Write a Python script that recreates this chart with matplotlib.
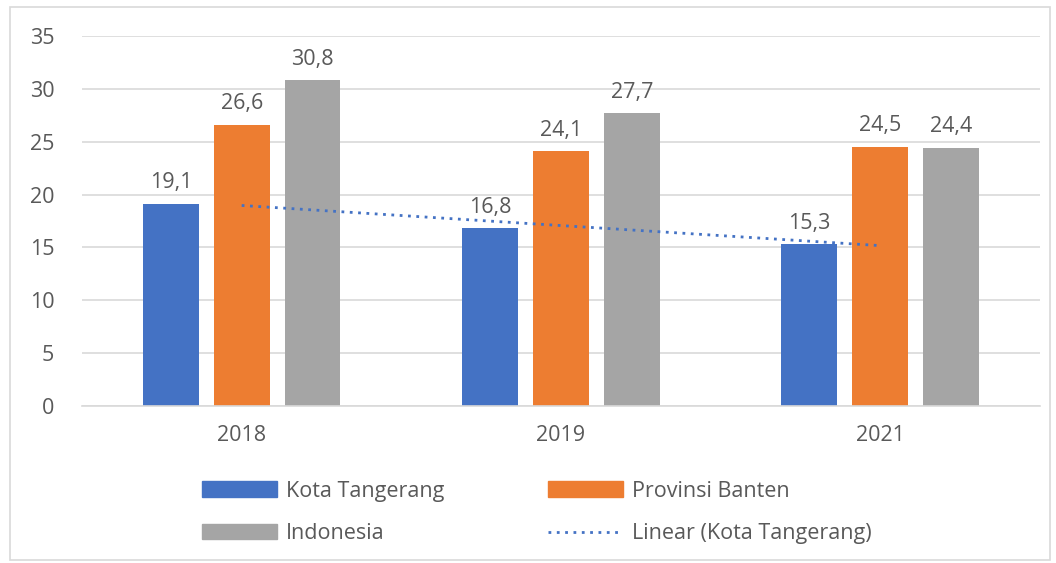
import matplotlib.pyplot as plt
from matplotlib.patches import Patch, Rectangle
from matplotlib.lines import Line2D
import numpy as np

years = ['2018', '2019', '2021']
kota = [19.1, 16.8, 15.3]
banten = [26.6, 24.1, 24.5]
indonesia = [30.8, 27.7, 24.4]
names = ['Kota Tangerang', 'Provinsi Banten', 'Indonesia']
colors = ['#4472C4', '#ED7D31', '#A5A5A5']

plt.rcParams['font.family'] = ['Open Sans', 'DejaVu Sans']
txt = '#595959'
fs = 15.5

fig = plt.figure(figsize=(10.56, 5.63), dpi=100)
ax = fig.add_axes([0.0777, 0.279, 0.907, 0.657])
fig.patches.append(Rectangle((0.009, 0.005), 0.985, 0.982, transform=fig.transFigure,
                             fill=False, edgecolor='#D9D9D9', lw=1.2))

x = np.arange(len(years))
w = 0.175
step = 0.222
for i, (vals, c) in enumerate(zip([kota, banten, indonesia], colors)):
    pos = x + (i - 1) * step
    ax.bar(pos, vals, width=w, color=c, zorder=2)
    for p, v in zip(pos, vals):
        ax.text(p, v + 1.0, f'{v:.1f}'.replace('.', ','), ha='center', va='bottom',
                fontsize=fs, color=txt)

# linear trend line for Kota Tangerang
coef = np.polyfit(x, kota, 1)
ax.plot(x, np.polyval(coef, x), ls=(0, (1, 2)), color='#4472C4', lw=2, zorder=3)

ax.set_xlim(-0.5, 2.5)
ax.set_ylim(0, 35)
ax.set_yticks(range(0, 36, 5))
ax.set_xticks(x)
ax.set_xticklabels(years)
ax.tick_params(length=0, labelsize=fs, colors=txt)
ax.tick_params(axis='x', pad=14)
ax.tick_params(axis='y', pad=20)
ax.grid(axis='y', color='#D9D9D9', lw=1.2, zorder=0)
for s in ['top', 'right', 'left']:
    ax.spines[s].set_visible(False)
ax.spines['bottom'].set_color('#D9D9D9')
ax.spines['bottom'].set_linewidth(1.2)

handles = [Patch(color=colors[0]), Patch(color=colors[2]),
           Patch(color=colors[1]),
           Line2D([], [], ls=(0, (1, 2)), color='#4472C4', lw=2)]
labels = [names[0], names[2], names[1], 'Linear (Kota Tangerang)']
leg = fig.legend(handles, labels, ncol=2, loc='center left', bbox_to_anchor=(0.173, 0.09),
                 frameon=False, fontsize=fs, handlelength=3.5, handleheight=0.7,
                 labelspacing=1.0, columnspacing=4.8, handletextpad=0.4)
for t in leg.get_texts():
    t.set_color(txt)

fig.savefig('out.png', dpi=100)
